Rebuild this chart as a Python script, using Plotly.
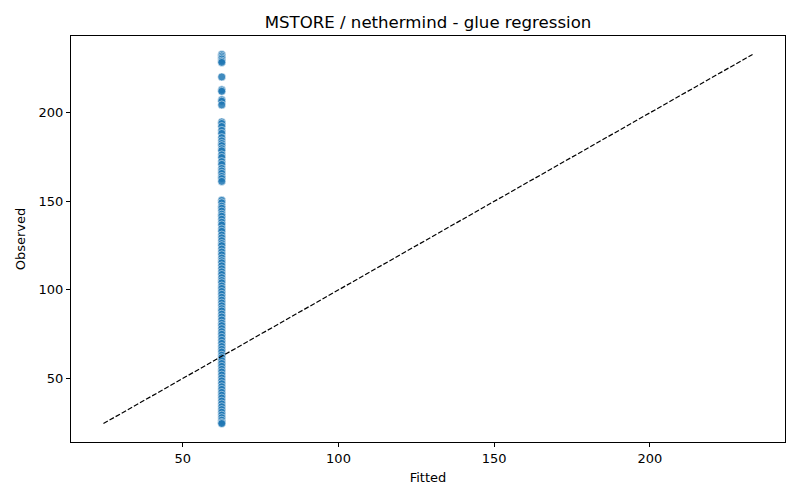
import plotly.graph_objects as go

# Observed values vs. fitted value (the glue model predicts a single constant)
observed = [
    233.0, 232.1, 231.2, 230.4, 229.3, 228.5, 220.3, 213.0, 212.2, 207.4,
    206.6, 204.5, 194.9, 194.0, 192.3, 190.1, 188.4, 186.0, 184.2, 182.7,
    181.5, 179.8, 178.6, 176.3, 174.8, 172.5, 170.9, 168.6, 167.2, 165.8,
    164.1, 162.9, 161.3,
    150.6, 149.2, 147.3, 146.1, 144.5, 142.8, 141.6, 139.9, 138.2, 136.7,
    134.5, 133.1, 131.0, 129.4, 127.8, 126.2, 125.0, 123.1, 121.4, 119.8,
    118.0, 116.5, 115.3, 113.6, 111.9, 110.2, 108.7, 106.9, 105.3, 104.0,
    102.2, 100.8, 99.1, 97.5, 95.8, 94.2, 92.6, 91.0, 89.4, 88.1, 86.3,
    84.7, 83.0, 81.2, 79.8, 78.1, 76.4, 74.9, 73.2, 71.5, 69.8, 68.0,
    66.4, 64.9, 63.1, 61.7, 60.0, 58.4, 56.8, 55.1, 53.6, 51.9, 50.2,
    48.6, 47.0, 45.3, 43.8, 42.1, 40.5, 38.9, 37.2, 35.6, 34.0, 32.4,
    30.9, 29.3, 27.8, 26.4, 25.1, 24.5,
]
fitted_value = 62.5
fitted = [fitted_value] * len(observed)

tick_vals = [50, 100, 150, 200]

lo = min(min(observed), min(fitted))
hi = max(max(observed), max(fitted))
pad = (hi - lo) * 0.05

fig = go.Figure()

fig.add_trace(go.Scatter(
    x=fitted, y=observed,
    mode="markers",
    marker=dict(size=8, color="#1f77b4", opacity=0.85,
                line=dict(color="white", width=0.6)),
    showlegend=False,
))

# y = x reference line
fig.add_trace(go.Scatter(
    x=[lo, hi], y=[lo, hi],
    mode="lines",
    line=dict(color="black", width=1.2, dash="5px,2px"),
    showlegend=False,
))

axis_style = dict(
    showline=True, linecolor="black", linewidth=1, mirror=True,
    ticks="outside", ticklen=4, tickcolor="black",
    showgrid=False, zeroline=False, automargin=False,
    tickvals=tick_vals,
    tickfont=dict(size=13, color="black"),
    range=[lo - pad, hi + pad],
)

# page body has an 8px margin, so shift everything up/left by 8px
fig.update_layout(
    width=800, height=500,
    margin=dict(l=63, r=23, t=28, b=66),
    plot_bgcolor="white", paper_bgcolor="white",
    font=dict(family="DejaVu Sans", color="black"),
    title=dict(text="MSTORE / nethermind - glue regression",
               xref="paper", x=0.5, xanchor="center",
               y=0.972, yanchor="middle",
               font=dict(size=16.6)),
)
fig.update_xaxes(**axis_style, title=dict(text="Fitted", font=dict(size=13), standoff=8))
fig.update_yaxes(**axis_style, title=dict(text="Observed", font=dict(size=13), standoff=10))

fig.write_html("out.html")
